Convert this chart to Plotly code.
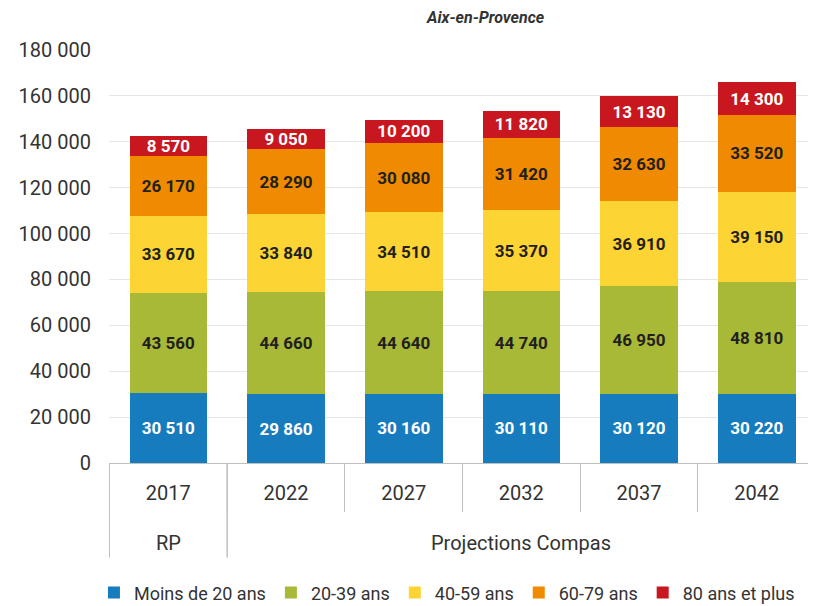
import plotly.graph_objects as go

years = ["2017", "2022", "2027", "2032", "2037", "2042"]
groups = ["RP", "Projections Compas", "Projections Compas", "Projections Compas",
          "Projections Compas", "Projections Compas"]

age_bands = ["Moins de 20 ans", "20-39 ans", "40-59 ans", "60-79 ans", "80 ans et plus"]
moins_20 = [30510, 29860, 30160, 30110, 30120, 30220]
ans_20_39 = [43560, 44660, 44640, 44740, 46950, 48810]
ans_40_59 = [33670, 33840, 34510, 35370, 36910, 39150]
ans_60_79 = [26170, 28290, 30080, 31420, 32630, 33520]
ans_80_plus = [8570, 9050, 10200, 11820, 13130, 14300]

series = [moins_20, ans_20_39, ans_40_59, ans_60_79, ans_80_plus]
colors = ["#167cbd", "#a8b837", "#fcd535", "#f08a00", "#c8171e"]
label_colors = ["white", "#231f20", "#231f20", "#231f20", "white"]
AXIS_GREY = "#bfbfbf"

fig = go.Figure()
for name, values, color, txt in zip(age_bands, series, colors, label_colors):
    fig.add_trace(
        go.Bar(
            x=years,
            y=values,
            name=name,
            marker={"color": color, "line": {"width": 0}},
            texttemplate="%{y:,.0f}",
            textposition="inside",
            insidetextanchor="middle",
            textangle=0,
            textfont={"color": txt, "size": 17, "family": "Roboto", "weight": "bold"},
            constraintext="none",
        )
    )

# second row of the x axis: group labels + long dividers at group edges
runs = []
start = 0
for i in range(1, len(groups) + 1):
    if i == len(groups) or groups[i] != groups[start]:
        runs.append((groups[start], start, i - 1))
        start = i

for label, first, last in runs:
    fig.add_annotation(
        text=label,
        x=(first + last) / 2,
        xref="x",
        y=0,
        yref="paper",
        yshift=-80,
        yanchor="middle",
        showarrow=False,
        font={"size": 20, "color": "#333333"},
    )
    for edge in (first - 0.5, last + 0.5):
        fig.add_shape(
            type="line",
            x0=edge, x1=edge, xref="x",
            y0=0, y1=-0.229, yref="paper",
            line={"color": AXIS_GREY, "width": 1},
        )

fig.add_annotation(
    text="<b><i>Aix-en-Provence</i></b>",
    xref="paper",
    yref="paper",
    x=0.533,
    y=1.0,
    yshift=44,
    showarrow=False,
    font={"size": 16, "color": "#333333"},
)

# page body adds an 8px offset, so the figure is 8px smaller each way
fig.update_layout(
    barmode="stack",
    bargap=0.34,
    separators=", ",
    width=808,
    height=598,
    margin={"l": 101, "r": 0, "t": 42, "b": 143},
    paper_bgcolor="white",
    plot_bgcolor="white",
    font={"family": "Roboto", "color": "#333333", "size": 20},
    showlegend=True,
    legend={
        "orientation": "h",
        "x": 0.478,
        "xanchor": "center",
        "yref": "container",
        "y": 0.022,
        "yanchor": "middle",
        "font": {"size": 18, "color": "#333333"},
        "itemwidth": 30,
        "traceorder": "normal",
    },
    xaxis={
        "type": "category",
        "automargin": False,
        "showline": True,
        "linecolor": AXIS_GREY,
        "linewidth": 1,
        "ticks": "outside",
        "tickson": "boundaries",
        "ticklen": 48,
        "tickcolor": AXIS_GREY,
        "ticklabelstandoff": 12,
        "tickfont": {"size": 20, "color": "#333333"},
        "showgrid": False,
    },
    yaxis={
        "range": [0, 180000],
        "dtick": 20000,
        "tickformat": ",.0f",
        "automargin": False,
        "showgrid": True,
        "gridcolor": "#e6e6e6",
        "zeroline": False,
        "ticklabelstandoff": 17,
        "tickfont": {"size": 20, "color": "#333333"},
    },
)

fig.write_html("out.html")
